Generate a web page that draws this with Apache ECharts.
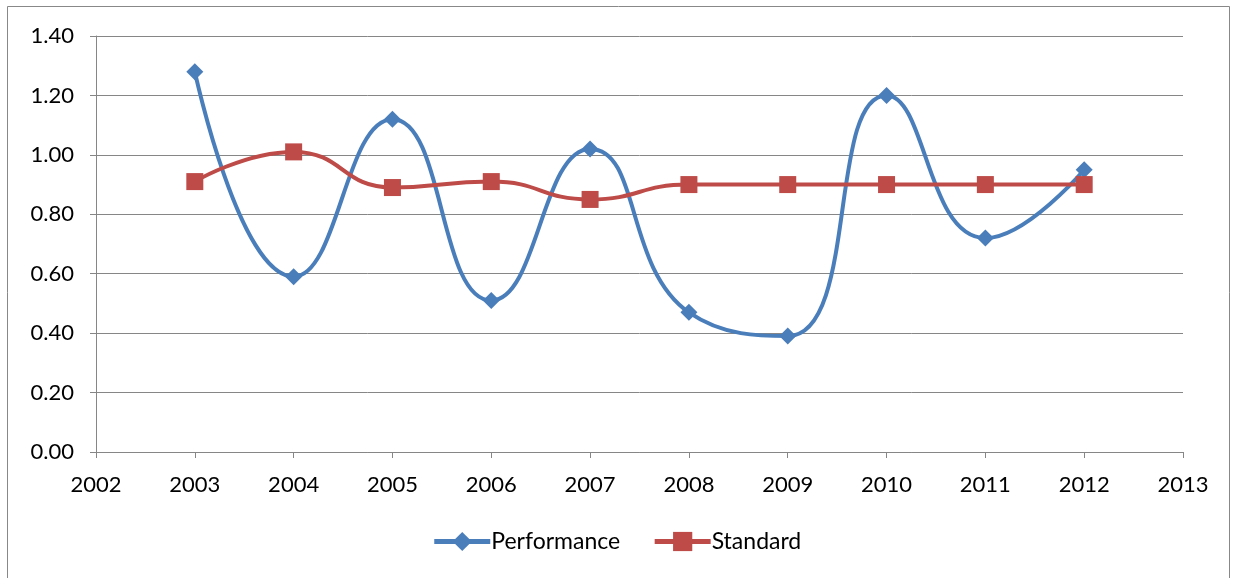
<!DOCTYPE html>
<html>
<head>
<meta charset="utf-8">
<script src="https://cdn.jsdelivr.net/npm/echarts@6/dist/echarts.min.js"></script>
<style>html,body{margin:0;padding:0;background:#fff;}#c{width:1233px;height:578px;}</style>
</head>
<body>
<div id="c"></div>
<script>
const years = [2003, 2004, 2005, 2006, 2007, 2008, 2009, 2010, 2011, 2012];
const performance = [1.28, 0.59, 1.12, 0.51, 1.02, 0.47, 0.39, 1.20, 0.72, 0.95];
const standard = [0.91, 1.01, 0.89, 0.91, 0.85, 0.90, 0.90, 0.90, 0.90, 0.90];
const seriesNames = ['Performance', 'Standard'];

const chart = echarts.init(document.getElementById('c'), null, {renderer: 'canvas'});
const font = 'Lato, "Open Sans", sans-serif';
chart.setOption({
  animation: false,
  backgroundColor: '#fff',
  textStyle: {fontFamily: font},
  graphic: [{
    type: 'rect', shape: {x: 7.5, y: 6.5, width: 1222, height: 600},
    style: {fill: 'none', stroke: '#888', lineWidth: 1}, silent: true, z: -1
  }],
  grid: {left: 96, right: 50, top: 36, bottom: 126},
  legend: {
    bottom: 20, left: 'center', itemWidth: 56, itemHeight: 24, itemGap: 32,
    lineStyle: {width: 5},
    textStyle: {fontSize: 23, color: '#000', fontFamily: font, padding: [0, 0, 0, -4]},
    data: seriesNames
  },
  xAxis: {
    type: 'value', min: 2002, max: 2013, interval: 1,
    axisLine: {show: true, lineStyle: {color: '#868686', width: 1}},
    axisTick: {show: true, length: 6, lineStyle: {color: '#868686'}},
    splitLine: {show: false},
    axisLabel: {fontSize: 22, color: '#000', margin: 22, fontFamily: font, formatter: v => String(v)}
  },
  yAxis: {
    type: 'value', min: 0, max: 1.4, interval: 0.2,
    axisLine: {show: true, lineStyle: {color: '#868686', width: 1}},
    axisTick: {show: true, length: 6, lineStyle: {color: '#868686'}},
    splitLine: {show: true, lineStyle: {color: '#868686', width: 1}},
    axisLabel: {fontSize: 22, color: '#000', margin: 22, fontFamily: font, formatter: v => v.toFixed(2)}
  },
  series: [
    {
      name: seriesNames[0], type: 'line', smooth: 0.5,
      data: years.map((y, i) => [y, performance[i]]),
      symbol: 'diamond', symbolSize: 17,
      lineStyle: {color: '#4A7EBB', width: 4},
      itemStyle: {color: '#4A7EBB'}
    },
    {
      name: seriesNames[1], type: 'line', smooth: 0.5,
      data: years.map((y, i) => [y, standard[i]]),
      symbol: 'rect', symbolSize: 17,
      lineStyle: {color: '#BE4B48', width: 4},
      itemStyle: {color: '#BE4B48'}
    }
  ]
});
</script>
</body>
</html>
